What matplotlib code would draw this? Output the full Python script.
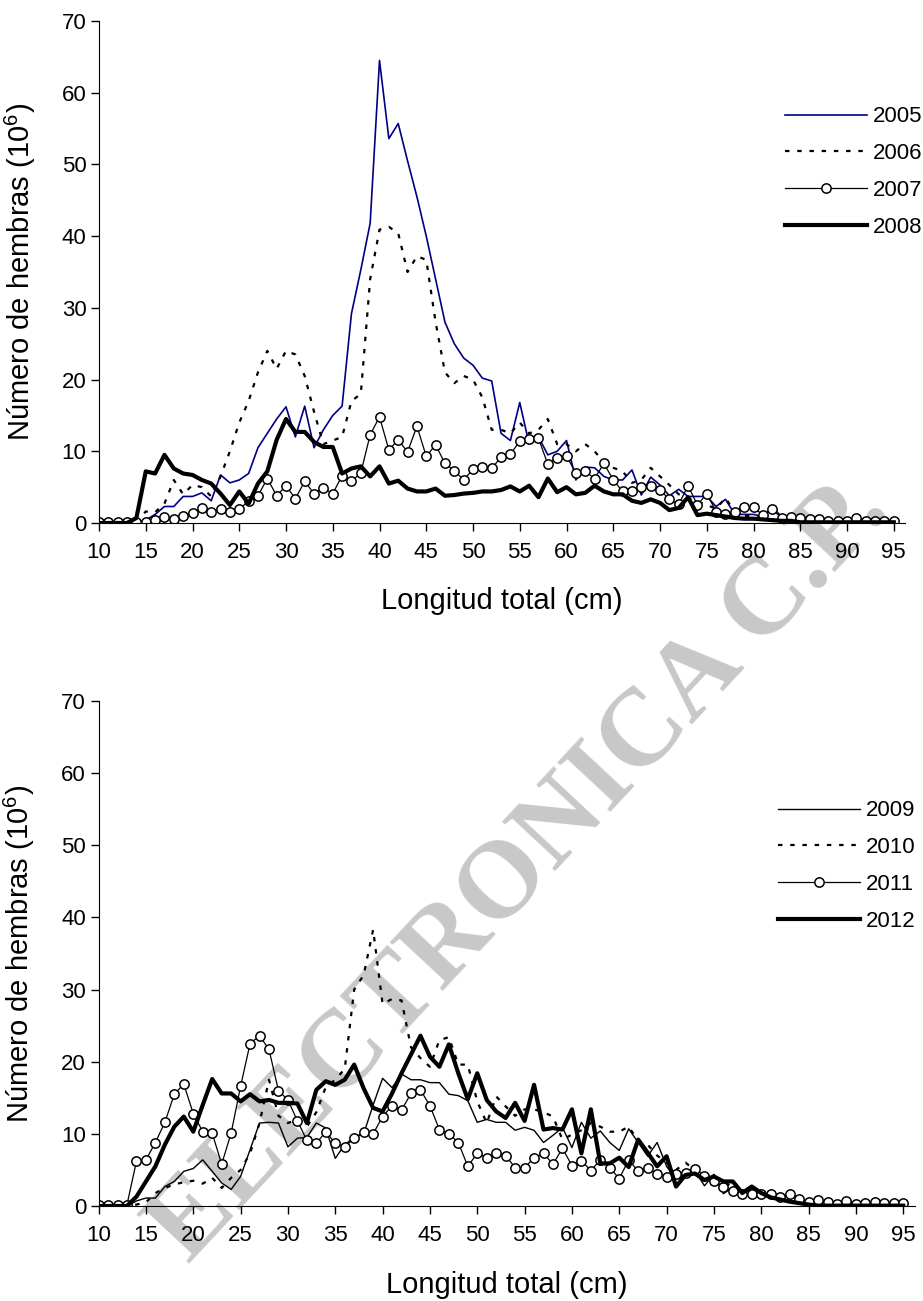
import matplotlib
matplotlib.use("Agg")
import matplotlib.pyplot as plt

plt.rcParams['font.family'] = ['Liberation Sans', 'DejaVu Sans']
plt.rcParams['mathtext.fontset'] = 'custom'
plt.rcParams['mathtext.rm'] = 'Liberation Sans'

# talla (cm) 10..95
lengths = list(range(10, 96))

# panel superior
y2005 = [0, 0, 0, 0, 0, 0.4, 1.2, 2.3, 2.3, 3.7, 3.7, 4.2, 3.1, 6.7, 5.6, 6.0, 6.9, 10.5, 12.5, 14.5,
         16.2, 12.0, 16.3, 10.5, 13.0, 15.0, 16.3, 29.2, 35.3, 41.8, 64.5, 53.6, 55.7, 50.5, 45.5, 40.0, 34.0, 28.0, 25.0, 23.0,
         22.0, 20.2, 19.8, 12.5, 11.5, 16.8, 11.0, 12.0, 9.5, 10.0, 11.5, 6.0, 7.8, 7.7, 6.5, 6.0, 6.0, 7.4, 3.9, 6.4,
         5.3, 3.8, 4.7, 3.7, 3.7, 3.7, 2.3, 3.3, 1.2, 1.2, 1.2, 0.9, 2.2, 0.9, 0.3, 0.2, 0.1, 0.1, 0.1, 0.1,
         0.1, 0.1, 0.1, 0.1, 0.1, 0.1]
y2006 = [0, 0, 0, 0, 0.2, 1.6, 1.5, 2.7, 6.0, 4.0, 5.3, 5.0, 3.7, 6.5, 10.0, 14.0, 17.0, 21.0, 24.0, 21.5,
         24.0, 23.5, 20.5, 15.5, 11.0, 11.5, 12.0, 17.0, 18.0, 34.0, 40.9, 41.3, 40.4, 35.0, 37.2, 36.7, 28.0, 21.0, 19.5, 20.5,
         20.0, 17.5, 13.0, 13.0, 12.5, 14.0, 12.5, 13.0, 14.5, 11.0, 11.0, 10.0, 11.0, 10.0, 8.5, 7.7, 7.2, 5.6, 6.0, 7.7,
         6.5, 5.3, 4.0, 3.5, 3.0, 2.5, 2.0, 3.5, 1.5, 1.0, 1.0, 0.7, 0.5, 0.3, 0.2, 0.1, 0.1, 0.1, 0.1, 0.1,
         0.1, 0.1, 0.1, 0.1, 0.1, 0.1]
y2007 = [0.1, 0.1, 0.1, 0.1, 0.1, 0.1, 0.4, 0.9, 0.6, 1.0, 1.4, 2.1, 1.6, 2.0, 1.6, 1.9, 3.1, 3.8, 6.2, 3.8,
         5.2, 3.4, 5.8, 4.1, 4.9, 4.1, 6.6, 5.8, 7.0, 12.3, 14.8, 10.2, 11.6, 9.9, 13.5, 9.3, 10.9, 8.3, 7.3, 6.0,
         7.5, 7.8, 7.6, 9.2, 9.6, 11.4, 11.7, 11.8, 8.2, 9.1, 9.3, 7.0, 7.2, 6.2, 8.3, 6.0, 4.4, 4.4, 5.0, 5.1,
         4.6, 3.3, 2.6, 5.2, 2.5, 4.1, 1.6, 1.3, 1.6, 2.3, 2.2, 1.1, 1.9, 0.7, 0.9, 0.7, 0.6, 0.6, 0.3, 0.3,
         0.3, 0.7, 0.3, 0.3, 0.3, 0.3]
y2008 = [0, 0, 0, 0, 0.7, 7.2, 6.9, 9.5, 7.6, 6.9, 6.7, 6.0, 5.5, 4.1, 2.5, 4.4, 2.7, 5.5, 7.2, 11.6,
         14.5, 12.7, 12.7, 11.3, 10.6, 10.6, 6.9, 7.6, 7.9, 6.5, 7.9, 5.5, 5.9, 4.8, 4.4, 4.4, 4.8, 3.8, 3.9, 4.1,
         4.2, 4.4, 4.4, 4.6, 5.1, 4.4, 5.2, 3.6, 6.2, 4.3, 5.0, 4.0, 4.2, 5.2, 4.4, 4.0, 4.0, 3.1, 2.8, 3.3,
         2.8, 1.8, 2.1, 3.6, 1.1, 1.3, 1.1, 0.9, 0.7, 0.6, 0.6, 0.5, 0.4, 0.3, 0.3, 0.1, 0.1, 0.1, 0.1, 0.1,
         0.1, 0.1, 0.1, 0.1, 0.1, 0.1]

# panel inferior
y2009 = [0, 0, 0, 0, 0.7, 1.1, 1.1, 2.7, 3.4, 4.8, 5.2, 6.4, 4.8, 3.2, 2.3, 4.1, 7.8, 11.5, 11.6, 11.5,
         8.2, 9.4, 9.5, 11.5, 10.8, 6.6, 8.5, 9.5, 10.0, 14.0, 17.7, 16.4, 18.3, 17.5, 17.5, 17.1, 17.1, 15.5, 15.3, 14.6,
         11.6, 12.0, 11.6, 11.6, 10.5, 10.9, 10.5, 8.8, 9.8, 10.9, 8.1, 11.6, 9.4, 10.4, 8.8, 7.7, 10.7, 8.8, 6.9, 8.8,
         5.5, 3.7, 4.2, 4.9, 2.8, 4.4, 1.7, 2.6, 1.7, 2.6, 1.9, 1.2, 1.0, 0.8, 0.5, 0.3, 0.1, 0.1, 0.1, 0.1,
         0.1, 0.1, 0.1, 0.1, 0.1, 0.1]
y2010 = [0, 0, 0, 0, 0.2, 0.5, 1.8, 2.5, 3.0, 3.3, 3.5, 3.1, 3.9, 2.5, 3.9, 5.0, 7.3, 11.5, 17.5, 12.5,
         11.5, 12.0, 11.0, 13.0, 16.5, 17.5, 19.0, 30.0, 32.0, 38.3, 28.0, 28.7, 28.5, 22.0, 20.5, 19.3, 23.0, 23.4, 19.6, 19.6,
         14.5, 11.5, 15.2, 13.8, 12.5, 13.4, 13.4, 13.0, 12.4, 9.2, 9.9, 10.5, 11.5, 11.0, 10.3, 10.3, 11.0, 9.0, 8.5, 7.0,
         6.0, 5.0, 6.0, 5.0, 4.0, 3.0, 3.5, 2.5, 2.0, 2.0, 1.5, 1.2, 1.0, 0.7, 0.5, 0.3, 0.1, 0.1, 0.1, 0.1,
         0.1, 0.1, 0.1, 0.1, 0.1, 0.1]
y2011 = [0.1, 0.1, 0.1, 0.2, 6.2, 6.4, 8.8, 11.6, 15.5, 16.9, 12.8, 10.3, 10.1, 5.8, 10.1, 16.6, 22.5, 23.6, 21.7, 16.0,
         14.7, 11.8, 9.1, 8.7, 10.3, 8.7, 8.2, 9.4, 10.3, 10.0, 12.4, 13.9, 13.3, 15.6, 16.1, 13.9, 10.6, 10.0, 8.8, 5.5,
         7.3, 6.7, 7.3, 7.0, 5.3, 5.3, 6.7, 7.3, 5.8, 8.0, 5.6, 6.3, 4.9, 6.4, 5.3, 3.8, 6.4, 4.8, 5.3, 4.4,
         4.0, 4.4, 4.6, 5.1, 4.2, 3.5, 2.6, 2.1, 1.6, 1.6, 1.6, 1.6, 1.3, 1.6, 1.0, 0.6, 0.9, 0.6, 0.3, 0.7,
         0.3, 0.4, 0.5, 0.4, 0.4, 0.4]
y2012 = [0, 0, 0, 0, 1.3, 3.4, 5.5, 8.5, 11.0, 12.4, 10.3, 14.0, 17.6, 15.6, 15.6, 14.5, 15.5, 14.5, 14.7, 14.3,
         14.3, 14.2, 11.5, 16.1, 17.3, 16.8, 17.5, 19.6, 16.3, 13.6, 13.1, 15.6, 18.4, 21.0, 23.6, 20.7, 19.3, 22.4, 18.4, 14.8,
         18.4, 14.7, 13.1, 12.2, 14.3, 11.8, 16.8, 10.6, 10.8, 10.6, 13.4, 7.3, 13.4, 5.9, 5.9, 6.7, 5.4, 9.2, 7.4, 5.5,
         6.9, 2.7, 4.3, 4.5, 3.6, 4.1, 3.4, 3.4, 1.8, 2.7, 1.8, 1.2, 0.9, 0.6, 0.4, 0.2, 0.05, 0.05, 0.05, 0.05,
         0.05, 0.05, 0.05, 0.05, 0.05, 0.05]

top_years = ['2005', '2006', '2007', '2008']
bottom_years = ['2009', '2010', '2011', '2012']

fig = plt.figure(figsize=(9.23, 13.01), dpi=100)
W, H = 923, 1301
ax1 = fig.add_axes([99 / W, 1 - 523 / H, 806 / W, 502 / H])
ax2 = fig.add_axes([98.6 / W, 1 - 1206 / H, 816 / W, 505 / H])

dots = (0, (2, 3.5))
circ = dict(marker='o', markersize=6.7, markerfacecolor='white', markeredgecolor='black', markeredgewidth=1.1)

ax1.plot(lengths, y2005, color='#000080', lw=1.2, label=top_years[0])
ax1.plot(lengths, y2006, color='black', lw=1.6, linestyle=dots, label=top_years[1])
ax1.plot(lengths, y2007, color='black', lw=0.9, label=top_years[2], **circ)
ax1.plot(lengths, y2008, color='black', lw=3.0, label=top_years[3])

ax2.plot(lengths, y2009, color='black', lw=1.0, label=bottom_years[0])
ax2.plot(lengths, y2010, color='black', lw=1.6, linestyle=dots, label=bottom_years[1])
ax2.plot(lengths, y2011, color='black', lw=0.9, label=bottom_years[2], **circ)
ax2.plot(lengths, y2012, color='black', lw=3.0, label=bottom_years[3])

for ax in (ax1, ax2):
    ax.set_facecolor('none')
    ax.set_xlim(10, 96.2)
    ax.set_ylim(0, 70)
    ax.set_xticks(range(10, 96, 5))
    ax.set_yticks(range(0, 71, 10))
    ax.spines['top'].set_visible(False)
    ax.spines['right'].set_visible(False)
    ax.tick_params(direction='out', length=6, width=1, labelsize=16)
    ax.tick_params(axis='x', pad=8)
    ax.tick_params(axis='y', pad=3)
    ax.set_xlabel('Longitud total (cm)', fontsize=21)
    ax.set_ylabel('Número de hembras (10$^6$)', fontsize=21)
    ax.xaxis.set_label_coords(0.5, -0.128)
    ax.yaxis.set_label_coords(-0.076, 0.5)

ax1.legend(loc='center left', bbox_to_anchor=(785 / W, 1 - 172 / H), bbox_transform=fig.transFigure,
           frameon=False, fontsize=16, handlelength=3.7, handletextpad=0.27, labelspacing=0.71,
           borderpad=0, borderaxespad=0)
ax2.legend(loc='center left', bbox_to_anchor=(778 / W, 1 - 866 / H), bbox_transform=fig.transFigure,
           frameon=False, fontsize=16, handlelength=3.7, handletextpad=0.27, labelspacing=0.71,
           borderpad=0, borderaxespad=0)

# marca de agua
fig.text(520 / W, 1 - 870 / H, 'ELECTRONICA C.P.', fontsize=79, family='Liberation Serif', weight='bold',
         color='#c8c8c8', rotation=47, ha='center', va='center', rotation_mode='anchor', zorder=-1)

fig.savefig('out.png', dpi=100)
